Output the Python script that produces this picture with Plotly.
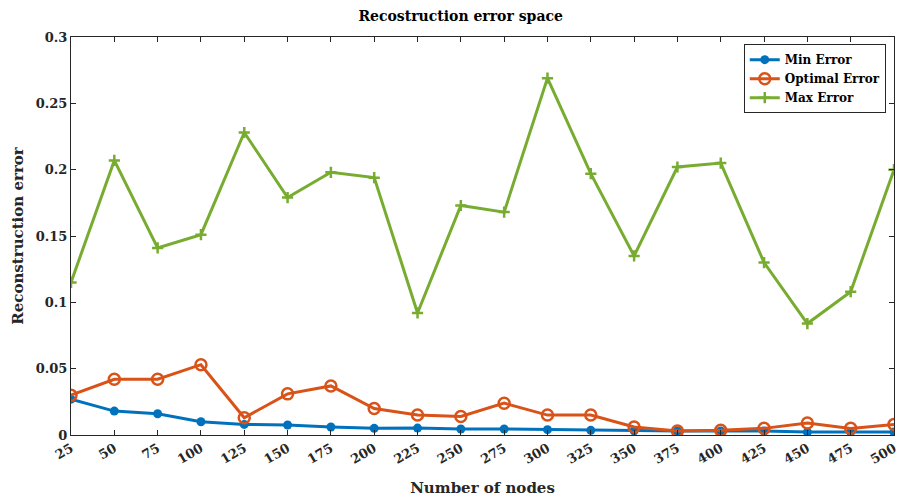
import plotly.graph_objects as go

nodes = [25, 50, 75, 100, 125, 150, 175, 200, 225, 250, 275, 300, 325, 350, 375, 400, 425, 450, 475, 500]
min_error = [0.027, 0.018, 0.016, 0.010, 0.008, 0.0075, 0.006, 0.005, 0.0052, 0.0045, 0.0045, 0.004, 0.0035, 0.0032, 0.003, 0.003, 0.003, 0.0022, 0.0022, 0.0022]
optimal_error = [0.030, 0.042, 0.042, 0.053, 0.013, 0.031, 0.037, 0.020, 0.015, 0.014, 0.024, 0.015, 0.015, 0.006, 0.003, 0.0035, 0.005, 0.009, 0.005, 0.008]
max_error = [0.115, 0.207, 0.141, 0.151, 0.228, 0.179, 0.198, 0.194, 0.092, 0.173, 0.168, 0.269, 0.197, 0.135, 0.202, 0.205, 0.130, 0.084, 0.108, 0.200]
y_ticks = [0, 0.05, 0.1, 0.15, 0.2, 0.25, 0.3]
y_tick_labels = ["0", "0.05", "0.1", "0.15", "0.2", "0.25", "0.3"]

FONT = "DejaVu Serif"

fig = go.Figure()
fig.add_trace(go.Scatter(x=nodes, y=min_error, name="<b>Min Error</b>", mode="lines+markers",
                         line=dict(color="#0072BD", width=3),
                         marker=dict(symbol="circle", size=9, color="#0072BD")))
fig.add_trace(go.Scatter(x=nodes, y=optimal_error, name="<b>Optimal Error</b>", mode="lines+markers",
                         line=dict(color="#D95319", width=3),
                         marker=dict(symbol="circle-open", size=11, color="#D95319", line=dict(width=2.5))))
fig.add_trace(go.Scatter(x=nodes, y=max_error, name="<b>Max Error</b>", mode="lines+markers",
                         line=dict(color="#77AC30", width=3),
                         marker=dict(symbol="cross-thin", size=8, color="#77AC30", line=dict(width=2.5, color="#77AC30"))))

fig.update_layout(
    width=898, height=498,
    margin=dict(l=71, r=4, t=37, b=63, autoexpand=False),
    paper_bgcolor="white", plot_bgcolor="white",
    font=dict(family=FONT, color="#262626", size=13),
    title=dict(text="<b>Recostruction error space</b>", x=0.513, xanchor="center", y=0.967, yanchor="middle",
               font=dict(family=FONT, size=14, color="black")),
    showlegend=True,
    legend=dict(x=0.99, y=0.982, xanchor="right", yanchor="top", bgcolor="white",
                bordercolor="#262626", borderwidth=1, font=dict(family=FONT, size=12, color="black"),
                tracegroupgap=0, itemwidth=30),
)
fig.update_xaxes(range=[25, 500], tickvals=nodes, ticktext=["<b>%d</b>" % n for n in nodes],
                 ticks="inside", ticklen=5, tickcolor="#262626", ticklabeloverflow="allow",
                 showline=True, linecolor="#262626", linewidth=1, mirror="ticks", showgrid=False, zeroline=False,
                 tickangle=-30, tickfont=dict(family=FONT, size=13, color="#262626"),
                 title=dict(text="<b>Number of nodes</b>", font=dict(family=FONT, size=15, color="#262626"), standoff=16))
fig.update_yaxes(range=[0, 0.3], tickvals=y_ticks, ticktext=["<b>%s</b>" % t for t in y_tick_labels],
                 ticks="inside", ticklen=5, tickcolor="#262626",
                 showline=True, linecolor="#262626", linewidth=1, mirror="ticks", showgrid=False, zeroline=False,
                 tickfont=dict(family=FONT, size=13, color="#262626"),
                 title=dict(text="<b>Reconstruction error</b>", font=dict(family=FONT, size=15, color="#262626"), standoff=8))
fig.write_html("out.html", config={"displayModeBar": False},
               post_script="document.body.style.margin='0';document.body.style.overflow='hidden';")
